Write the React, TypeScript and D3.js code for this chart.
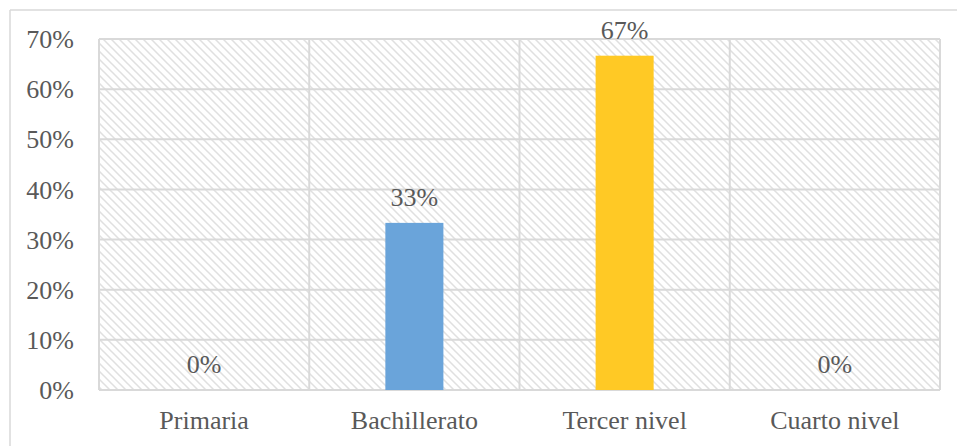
import React from "react";
import * as d3 from "d3";

const categories = ["Primaria", "Bachillerato", "Tercer nivel", "Cuarto nivel"];
const values = [0, 0.3333, 0.6667, 0];
const barColors = ["#6aa4da", "#6aa4da", "#ffc925", "#6aa4da"];
const valueLabels = ["0%", "33%", "67%", "0%"];
const yTicks = [0, 0.1, 0.2, 0.3, 0.4, 0.5, 0.6, 0.7];

const W = 957;
const H = 446;
const margin = { left: 99, right: 17, top: 39, bottom: 56 };
const FONT = "'Liberation Serif', 'Times New Roman', serif";
const TEXT = "#595959";
const GRID = "#d9d9d9";

export default function App() {
  const x = d3
    .scaleBand<string>()
    .domain(categories)
    .range([margin.left, W - margin.right])
    .paddingInner(0)
    .paddingOuter(0);
  const y = d3.scaleLinear().domain([0, 0.7]).range([H - margin.bottom, margin.top]);
  const bw = x.bandwidth() * 0.276;
  const fmt = d3.format(".0%");

  return (
    <svg
      width={W}
      height={H}
      style={{ position: "absolute", left: 0, top: 0, background: "#fff" }}
    >
      <defs>
        <pattern id="hatch" patternUnits="userSpaceOnUse" width={8} height={8}>
          <rect width={8} height={8} fill="#fff" />
          <path
            d="M-2,-2 L10,10 M-2,6 L2,10 M6,-2 L10,2"
            stroke="#e0e0e0"
            strokeWidth={1.5}
          />
        </pattern>
      </defs>
      {/* outer chart border */}
      <line x1={10} y1={10} x2={W} y2={10} stroke={GRID} strokeWidth={1.5} />
      <line x1={10} y1={10} x2={10} y2={H} stroke={GRID} strokeWidth={1.5} />

      {/* plot area */}
      <rect
        x={margin.left}
        y={margin.top}
        width={W - margin.left - margin.right}
        height={H - margin.top - margin.bottom}
        fill="url(#hatch)"
      />
      {yTicks.map((t) => (
        <line
          key={"g" + t}
          x1={margin.left}
          x2={W - margin.right}
          y1={y(t)}
          y2={y(t)}
          stroke={GRID}
          strokeWidth={2}
        />
      ))}
      {[...categories.map((c) => x(c)!), W - margin.right].map((xx, i) => (
        <line
          key={"v" + i}
          x1={xx}
          x2={xx}
          y1={margin.top}
          y2={H - margin.bottom}
          stroke={GRID}
          strokeWidth={2}
        />
      ))}

      {/* bars */}
      {categories.map((c, i) => (
        <rect
          key={"b" + c}
          x={x(c)! + x.bandwidth() / 2 - bw / 2}
          y={y(values[i])}
          width={bw}
          height={y(0) - y(values[i])}
          fill={barColors[i]}
        />
      ))}

      {/* data labels */}
      {categories.map((c, i) => (
        <text
          key={"l" + c}
          x={x(c)! + x.bandwidth() / 2}
          y={y(values[i]) - 17}
          textAnchor="middle"
          fontFamily={FONT}
          fontSize={26}
          fill={TEXT}
        >
          {valueLabels[i]}
        </text>
      ))}

      {/* y axis labels */}
      {yTicks.map((t) => (
        <text
          key={"t" + t}
          x={74}
          y={y(t)}
          dy="0.35em"
          textAnchor="end"
          fontFamily={FONT}
          fontSize={26}
          fill={TEXT}
        >
          {fmt(t)}
        </text>
      ))}

      {/* x axis labels */}
      {categories.map((c) => (
        <text
          key={"x" + c}
          x={x(c)! + x.bandwidth() / 2}
          y={429}
          textAnchor="middle"
          fontFamily={FONT}
          fontSize={26}
          fill={TEXT}
        >
          {c}
        </text>
      ))}
    </svg>
  );
}
